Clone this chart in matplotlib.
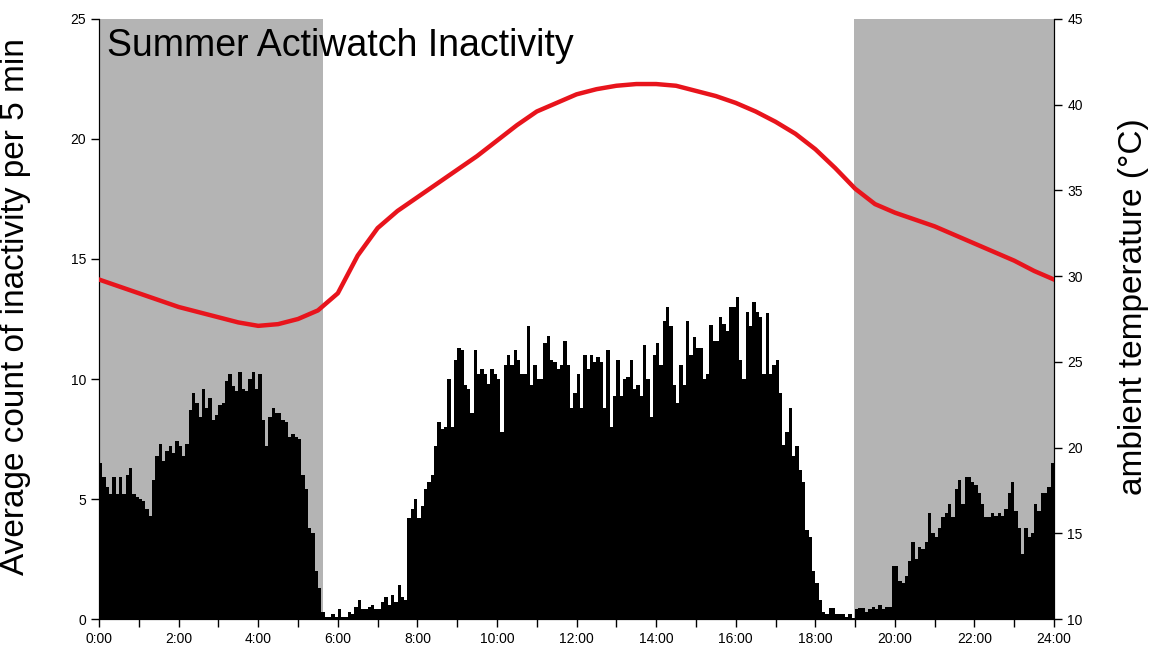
import numpy as np
import matplotlib
matplotlib.use("Agg")
import matplotlib.pyplot as plt

plt.rcParams['font.family'] = ['Liberation Sans', 'DejaVu Sans']

# average inactivity count per 5-min bin, one row per hour
inactivity = [
    6.5, 5.9, 5.5, 5.2, 5.9, 5.2, 5.9, 5.2, 6.0, 6.3, 5.2, 5.1,          # 0h
    5.0, 4.9, 4.6, 4.3, 5.8, 6.8, 7.3, 6.6, 7.0, 7.2, 6.9, 7.4,          # 1h
    7.2, 6.8, 7.3, 8.7, 9.4, 9.0, 8.4, 9.6, 8.8, 9.2, 8.3, 8.5,          # 2h
    8.9, 9.0, 9.9, 10.2, 9.7, 9.5, 10.3, 9.6, 9.5, 10.0, 10.3, 9.6,      # 3h
    10.2, 8.3, 7.2, 8.4, 8.8, 8.6, 8.6, 8.3, 8.2, 7.6, 7.7, 7.6,         # 4h
    7.5, 6.0, 5.4, 3.8, 3.6, 2.0, 1.3, 0.3, 0.1, 0.1, 0.2, 0.1,          # 5h
    0.4, 0.1, 0.1, 0.3, 0.2, 0.5, 0.8, 0.4, 0.4, 0.5, 0.6, 0.4,          # 6h
    0.4, 0.7, 0.9, 0.6, 1.0, 0.7, 1.4, 0.9, 0.8, 4.2, 4.6, 5.0,          # 7h
    4.2, 4.7, 5.4, 5.7, 6.0, 7.2, 8.2, 7.9, 8.0, 10.0, 8.0, 10.8,        # 8h
    11.3, 11.2, 9.75, 9.6, 8.6, 11.2, 10.2, 10.4, 10.2, 9.8, 10.4, 10.2, # 9h
    10.0, 7.8, 10.6, 11.0, 10.6, 11.2, 10.8, 10.2, 10.2, 12.2, 9.75, 10.6,  # 10h
    10.0, 10.0, 11.5, 11.8, 10.8, 10.7, 10.4, 10.6, 11.6, 10.6, 8.8, 9.4,   # 11h
    10.2, 8.8, 11.0, 10.4, 11.0, 10.7, 10.9, 10.7, 8.8, 11.2, 8.0, 9.3,     # 12h
    10.8, 9.3, 10.0, 10.1, 10.8, 9.6, 9.75, 9.3, 11.4, 10.0, 8.4, 11.0,     # 13h
    11.5, 10.6, 12.4, 13.0, 12.2, 9.75, 9.0, 10.6, 9.75, 12.4, 11.0, 11.75, # 14h
    11.3, 11.3, 10.0, 10.2, 12.25, 11.6, 11.6, 12.6, 12.3, 12.0, 13.0, 13.0,# 15h
    13.4, 10.8, 10.0, 12.8, 12.2, 13.2, 12.8, 12.6, 10.2, 12.75, 10.2, 10.6,# 16h
    10.8, 9.4, 7.25, 7.8, 8.8, 6.8, 7.2, 6.2, 5.7, 3.7, 3.4, 2.0,        # 17h
    1.5, 0.8, 0.3, 0.2, 0.45, 0.45, 0.2, 0.2, 0.2, 0.1, 0.2, 0.05,       # 18h
    0.4, 0.45, 0.45, 0.3, 0.4, 0.5, 0.4, 0.6, 0.4, 0.5, 0.5, 2.2,        # 19h
    2.2, 1.6, 1.5, 1.8, 2.4, 3.2, 2.5, 3.0, 2.9, 3.2, 4.4, 3.6,          # 20h
    3.4, 3.8, 4.25, 4.4, 4.8, 4.25, 5.4, 5.8, 4.8, 5.9, 5.9, 5.7,        # 21h
    5.6, 5.25, 4.8, 4.25, 4.25, 4.4, 4.3, 4.4, 4.3, 4.6, 5.25, 5.7,      # 22h
    4.5, 3.8, 2.7, 3.8, 3.4, 3.6, 4.8, 4.5, 5.25, 5.25, 5.5, 6.5,        # 23h
]

# ambient temperature every 30 min
temp_hours = [0, 0.5, 1, 1.5, 2, 2.5, 3, 3.5, 4, 4.5, 5, 5.5, 6, 6.5, 7, 7.5,
              8, 8.5, 9, 9.5, 10, 10.5, 11, 11.5, 12, 12.5, 13, 13.5, 14, 14.5,
              15, 15.5, 16, 16.5, 17, 17.5, 18, 18.5, 19, 19.5, 20, 20.5, 21,
              21.5, 22, 22.5, 23, 23.5, 24]
temperature = [29.8, 29.4, 29.0, 28.6, 28.2, 27.9, 27.6, 27.3, 27.1, 27.2, 27.5,
               28.0, 29.0, 31.2, 32.8, 33.8, 34.6, 35.4, 36.2, 37.0, 37.9, 38.8,
               39.6, 40.1, 40.6, 40.9, 41.1, 41.2, 41.2, 41.1, 40.8, 40.5, 40.1,
               39.6, 39.0, 38.3, 37.4, 36.3, 35.1, 34.2, 33.7, 33.3, 32.9, 32.4,
               31.9, 31.4, 30.9, 30.3, 29.8]

night_periods = [(0, 5.63), (18.97, 24)]
hour_ticks = list(range(0, 25, 2))
hour_labels = [f"{h}:00" for h in hour_ticks]

fig = plt.figure(figsize=(11.52, 6.51), dpi=100)
ax = fig.add_axes([0.086, 0.049, 0.829, 0.922])

for start, end in night_periods:
    ax.axvspan(start, end, color='#b4b4b4', lw=0, zorder=0)

bin_starts = np.arange(len(inactivity)) / 12.0
ax.bar(bin_starts, inactivity, width=1 / 12, align='edge', color='black',
       linewidth=0, zorder=2)

ax.set_xlim(0, 24)
ax.set_ylim(0, 25)
ax.set_yticks([0, 5, 10, 15, 20, 25])
ax.set_xticks(hour_ticks)
ax.set_xticklabels(hour_labels)
ax.set_xticks(range(1, 24, 2), minor=True)
ax.tick_params(labelsize=10, direction='out', length=6, width=1)
ax.tick_params(which='minor', length=6, width=1)
ax.spines['top'].set_visible(False)
ax.set_ylabel("Average count of inactivity per 5 min", fontsize=24)
ax.yaxis.set_label_coords(-0.071, 0.52)
ax.text(0.008, 0.985, "Summer Actiwatch Inactivity", transform=ax.transAxes,
        fontsize=27, va='top', ha='left', zorder=5)

ax2 = ax.twinx()
ax2.plot(temp_hours, temperature, color='#e8141c', lw=3.2, zorder=3)
ax2.set_ylim(10, 45)
ax2.set_yticks(range(10, 46, 5))
ax2.tick_params(labelsize=10, direction='out', length=6, width=1)
ax2.spines['top'].set_visible(False)
ax2.set_ylabel("ambient temperature (°C)", fontsize=24)
ax2.yaxis.set_label_coords(1.067, 0.52)

fig.savefig("out.png", dpi=100)
